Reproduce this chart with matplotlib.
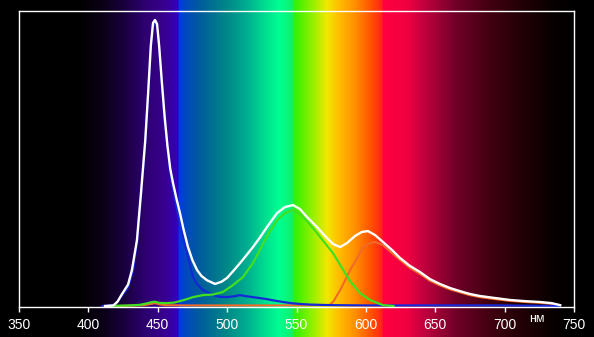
import numpy as np
import matplotlib
matplotlib.use('Agg')
import matplotlib.pyplot as plt
from matplotlib.colors import LinearSegmentedColormap
from matplotlib.transforms import blended_transform_factory

# ---------------- data ----------------
white_nm = [412, 418, 421, 424, 428.6, 431.4, 435, 438, 441, 443, 445, 446.6, 448, 449.5,
            451, 453, 455, 457, 459, 461, 463.5, 466, 468.5, 471.8, 475, 478.3, 481.5, 485.5, 491.3,
            496, 499.9, 504, 509.3, 513.5, 518.6, 523.7, 528.7, 536, 541.7, 547.5, 552.5, 557.6,
            564.8, 570.5, 576.3, 581.4, 586.4, 592.2, 597.2, 601.5, 606.6, 612.3, 618.8, 624.6,
            631.8, 639, 646.2, 653.4, 660.6, 667.8, 675, 682.2, 693, 704, 714.7, 725.5, 734, 740]
white_v = [0, 0.002, 0.015, 0.04, 0.075, 0.126, 0.23, 0.40, 0.58, 0.74, 0.91, 0.99, 1.0, 0.986,
           0.91, 0.78, 0.66, 0.56, 0.48, 0.43, 0.375, 0.325, 0.27, 0.206, 0.16, 0.126, 0.105, 0.09, 0.077,
           0.085, 0.098, 0.12, 0.15, 0.175, 0.206, 0.24, 0.276, 0.325, 0.346, 0.353, 0.339, 0.311,
           0.276, 0.245, 0.217, 0.206, 0.22, 0.245, 0.259, 0.262, 0.248, 0.224, 0.196, 0.168,
           0.14, 0.119, 0.094, 0.077, 0.063, 0.052, 0.042, 0.035, 0.028, 0.021, 0.017, 0.014, 0.010, 0.003]

blue_nm = [410, 419, 424, 428.6, 432, 435, 438, 441, 443, 445, 446.6, 448, 449.5, 451, 453, 455,
           457, 459, 461, 464.6, 468.2, 471.8, 475.4, 478.5, 482.6, 489.8, 495, 500, 505, 509.3, 514,
           518.6, 523, 528.7, 534, 540.3, 546, 552.5, 560, 574, 600, 650, 700, 740]
blue_v = [0, 0.004, 0.035, 0.065, 0.12, 0.22, 0.39, 0.57, 0.73, 0.90, 0.98, 0.99, 0.975, 0.90,
          0.77, 0.65, 0.55, 0.47, 0.41, 0.32, 0.24, 0.17, 0.101, 0.075, 0.056, 0.038, 0.032, 0.031,
          0.034, 0.038, 0.034, 0.031, 0.028, 0.024, 0.019, 0.014, 0.010, 0.007, 0.005, 0.003,
          0.002, 0.002, 0.002, 0.0]

green_nm = [415, 430, 437, 442, 446, 448, 451, 456, 462, 466, 471, 475.4, 482.6, 489.8, 497,
            504.2, 511.4, 518.6, 524, 530, 536, 541.7, 547.5, 552.5, 558, 564.8, 570.5, 576.3,
            582.8, 588.6, 595.8, 603, 612.3, 620]
green_v = [0, 0.002, 0.004, 0.009, 0.014, 0.015, 0.011, 0.010, 0.012, 0.017, 0.024, 0.031, 0.038,
           0.040, 0.049, 0.073, 0.101, 0.150, 0.20, 0.255, 0.30, 0.325, 0.336, 0.322, 0.295,
           0.255, 0.22, 0.185, 0.133, 0.087, 0.045, 0.021, 0.003, 0]

red_nm = [420, 440, 445, 448, 451, 455, 470, 500, 540, 570, 574, 576.5, 582, 588.6, 594, 598,
          603, 606.6, 612.3, 618.8, 624.6, 631.8, 639, 646.2, 653.4, 660.6, 667.8, 675, 682.2,
          693, 704, 714.7, 725.5, 734, 740]
red_v = [0, 0.003, 0.007, 0.010, 0.006, 0.003, 0.002, 0.002, 0.002, 0.003, 0.004, 0.015, 0.06,
         0.125, 0.17, 0.205, 0.22, 0.224, 0.213, 0.185, 0.161, 0.133, 0.112, 0.088, 0.072, 0.058,
         0.048, 0.038, 0.031, 0.024, 0.018, 0.014, 0.011, 0.007, 0.002]

tick_values = [350, 400, 450, 500, 550, 600, 650, 700, 750]
unit_label = 'нм'

# background spectrum colour stops (wavelength, colour)
spec_nm = [350, 392, 410, 425, 440, 455, 463, 464.5, 465.5, 470, 480, 500, 515, 528, 538, 546.5,
           548.5, 552, 562, 572, 580, 592, 604, 611, 613, 630, 640, 665, 690, 713, 735, 750]
spec_col = ['#000000', '#000000', '#0a0016', '#18003a', '#2c006c', '#380090', '#3400b4',
            '#3000c4', '#0038e8', '#0048c0', '#005c9c', '#008888', '#00b090', '#00e090',
            '#00ff90', '#10f070', '#30f010', '#48f000', '#98f000', '#f0e800', '#ffc000',
            '#ff9000', '#ff5000', '#ff2818', '#ff0040', '#f00040', '#c80040', '#700028',
            '#400010', '#200005', '#080000', '#000000']

# ---------------- figure ----------------
W, H = 594, 337
fig = plt.figure(figsize=(W / 100, H / 100), dpi=100, facecolor='black')
l, b, w, h = 19 / W, 30 / H, 555 / W, 296 / H
xmin, xmax = 350, 750

bg = fig.add_axes([0, 0, 1, 1], zorder=0)
scale = (xmax - xmin) / w
bg.set_xlim(xmin - l * scale, xmax + (1 - l - w) * scale)
bg.set_ylim(0, 1)
bg.axis('off')
pos = [(v - xmin) / (xmax - xmin) for v in spec_nm]
cmap = LinearSegmentedColormap.from_list('spec', list(zip(pos, spec_col)), N=4096)
grad = np.linspace(0, 1, 4096)[None, :]
bg.imshow(grad, cmap=cmap, extent=(xmin, xmax, 0, 1), aspect='auto', interpolation='nearest')

ax = fig.add_axes([l, b, w, h], zorder=1)
ax.set_facecolor('none')
ax.plot(red_nm, red_v, color='#f06a28', lw=1.5, solid_joinstyle='round')
ax.plot(blue_nm, blue_v, color='#1428d8', lw=1.6, solid_joinstyle='round')
ax.plot(green_nm, green_v, color='#40e020', lw=1.6, solid_joinstyle='round')
ax.plot(white_nm, white_v, color='white', lw=1.7, solid_joinstyle='round')

ax.set_xlim(xmin, xmax)
ax.set_ylim(-1 / 286, 295 / 286)
for s in ax.spines.values():
    s.set_color('white')
    s.set_linewidth(1.0)
ax.set_xticks(tick_values)
ax.set_xticklabels([str(t) for t in tick_values], family='Liberation Sans', fontsize=10, color='white')
ax.tick_params(axis='x', direction='out', length=3.6, width=1, color='white', pad=4.5)
ax.set_yticks([])

tr = blended_transform_factory(ax.transData, ax.transAxes)
ax.text(723, -0.042, unit_label, transform=tr, color='white', fontsize=9,
        family='Liberation Sans', ha='center', va='center')

fig.savefig('out.png', dpi=100, facecolor='black')
